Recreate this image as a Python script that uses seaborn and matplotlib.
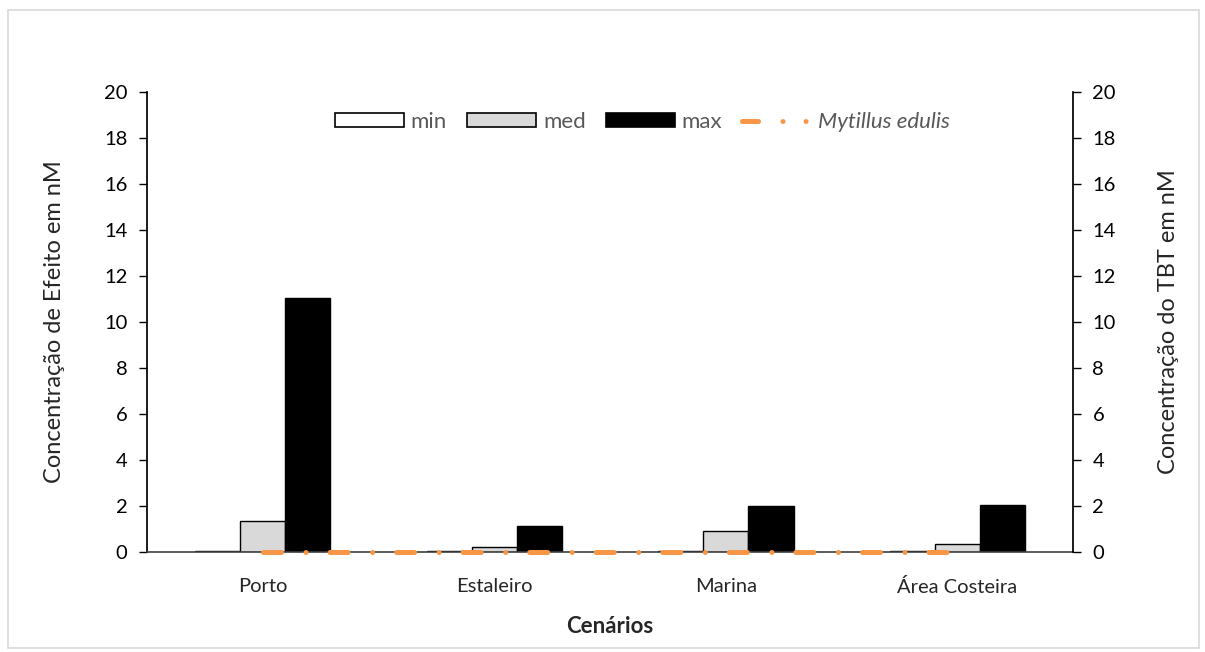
import numpy as np
import pandas as pd
import matplotlib
matplotlib.use("Agg")
import matplotlib.pyplot as plt
import seaborn as sns
from matplotlib.patches import Rectangle

# data
cenarios = ["Porto", "Estaleiro", "Marina", "Área Costeira"]
niveis = ["min", "med", "max"]
val_min = [0.04, 0.04, 0.04, 0.04]
val_med = [1.35, 0.22, 0.91, 0.34]
val_max = [11.05, 1.13, 1.98, 2.03]
mytilus = [0.01, 0.01, 0.01, 0.01]

cores = {"min": "white", "med": "#D9D9D9", "max": "black"}

df = pd.DataFrame({
    "Cenário": cenarios * 3,
    "Nível": [n for n in niveis for _ in cenarios],
    "Valor": val_min + val_med + val_max,
})

sns.set_theme(style="white")
plt.rcParams["font.family"] = ["Lato", "DejaVu Sans"]

fig = plt.figure(figsize=(12.05, 6.52), dpi=100)
ax = fig.add_axes([0.122, 0.1534, 0.7685, 0.7055])

sns.barplot(data=df, x="Cenário", y="Valor", hue="Nível", order=cenarios,
            hue_order=niveis, palette=cores, width=0.585, edgecolor="black",
            linewidth=1.0, saturation=1, ax=ax, legend=False)

ax2 = ax.twinx()
sns.lineplot(x=np.arange(len(cenarios)), y=mytilus, ax=ax2, color="#F79646",
             linewidth=3.6, dashes=False, legend=False)
ln = ax2.lines[0]
ln.set_dashes((3.6, 4.9, 0.01, 4.8))
ln.set_dash_capstyle("round")
ln.set_clip_on(False)

for a in (ax, ax2):
    a.set_ylim(0, 20)
    a.set_yticks(np.arange(0, 21, 2))
    a.tick_params(axis="y", direction="out", length=6, width=1, colors="black",
                  labelsize=14.5, pad=8)
    a.spines["top"].set_visible(False)
ax.set_xlim(-0.5, len(cenarios) - 0.5)
ax.tick_params(axis="x", length=0, labelsize=14.5, pad=19)
ax.tick_params(axis="y", left=True, right=False)
ax2.tick_params(axis="y", right=True, left=False)
ax.spines["left"].set_color("black")
ax.spines["right"].set_visible(False)
ax2.spines["left"].set_visible(False)
ax2.spines["bottom"].set_visible(False)
ax2.spines["right"].set_color("black")
ax.spines["bottom"].set_color("#404040")
ax.spines["bottom"].set_linewidth(1.2)

ax.set_xlabel("Cenários", fontsize=16, fontweight="bold", labelpad=14)
ax.set_ylabel("Concentração de Efeito em nM", fontsize=17, labelpad=28)
ax2.set_ylabel("Concentração do TBT em nM", fontsize=17, labelpad=30)

# legend
handles = [Rectangle((0, 0), 1, 1, facecolor=cores[n], edgecolor="black", linewidth=1.2)
           for n in niveis]
lh = plt.Line2D([], [], color="#F79646", linewidth=3.6,
                dashes=(3.2, 4.9, 0.01, 4.6, 0.01, 4.6), dash_capstyle="round")
leg = ax2.legend(handles + [lh], niveis + ["Mytillus edulis"], loc="upper center",
                 bbox_to_anchor=(0.535, 1.0), ncol=4, frameon=False, fontsize=16,
                 handlelength=3.1, handleheight=0.6, columnspacing=0.9,
                 handletextpad=0.32)
for t in leg.get_texts():
    t.set_color("#595959")
leg.get_texts()[3].set_style("italic")

fig.patches.append(Rectangle((0.007, 0.006), 0.988, 0.979, transform=fig.transFigure,
                             fill=False, edgecolor="#D9D9D9", linewidth=1.2))

fig.savefig("out.png", dpi=100)
